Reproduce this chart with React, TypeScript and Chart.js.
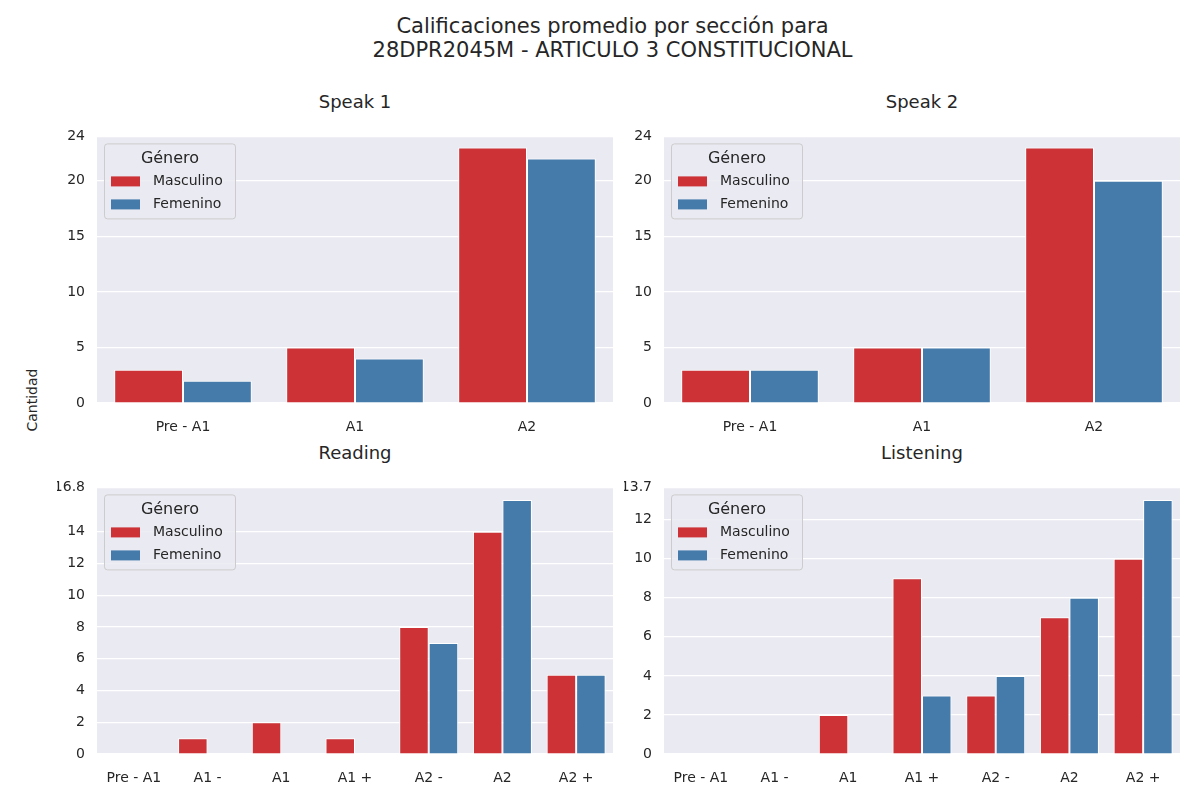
import Chart from 'chart.js/auto'
import { useEffect, useRef } from 'react'

const speakCats = ['Pre - A1', 'A1', 'A2']
const levelCats = ['Pre - A1', 'A1 -', 'A1', 'A1 +', 'A2 -', 'A2', 'A2 +']
const speak1Masc = [3, 5, 23]
const speak1Fem = [2, 4, 22]
const speak2Masc = [3, 5, 23]
const speak2Fem = [3, 5, 20]
const readingMasc = [0, 1, 2, 1, 8, 14, 5]
const readingFem = [0, 0, 0, 0, 7, 16, 5]
const listeningMasc = [0, 0, 2, 9, 3, 7, 10]
const listeningFem = [0, 0, 0, 3, 4, 8, 13]

const RED = '#cc3236'
const BLUE = '#457bab'
const FONT = '"DejaVu Sans", sans-serif'

const legendPlugin = {
  id: 'innerLegend',
  afterDatasetsDraw(chart: any) {
    const { ctx, chartArea } = chart
    const x = chartArea.left + 7
    const y = chartArea.top + 7
    ctx.save()
    ctx.fillStyle = 'rgba(234,234,242,0.85)'
    ctx.strokeStyle = '#cccccc'
    ctx.lineWidth = 1
    ctx.beginPath()
    ctx.roundRect(x + 0.5, y + 0.5, 131, 75, 3)
    ctx.fill()
    ctx.stroke()
    ctx.fillStyle = '#262626'
    ctx.font = `16px ${FONT}`
    ctx.textAlign = 'center'
    ctx.textBaseline = 'middle'
    ctx.fillText('Género', x + 66, y + 15)
    ctx.font = `14px ${FONT}`
    ctx.textAlign = 'left'
    const items: [string, string][] = [['Masculino', RED], ['Femenino', BLUE]]
    items.forEach(([label, color], i) => {
      const yy = y + 38 + i * 23
      ctx.fillStyle = color
      ctx.fillRect(x + 7, yy - 5, 29, 10)
      ctx.fillStyle = '#262626'
      ctx.fillText(label, x + 49, yy)
    })
    ctx.restore()
  },
}

interface PanelProps {
  title: string
  labels: string[]
  masc: number[]
  fem: number[]
  max: number
  step: number
  left: number
  top: number
}

function Panel(props: PanelProps) {
  const ref = useRef<HTMLCanvasElement>(null)
  const plotW = 516
  const plotH = 282

  useEffect(() => {
    if (!ref.current) return
    const chart = new Chart(ref.current, {
      type: 'bar',
      data: {
        labels: props.labels,
        datasets: [
          { label: 'Masculino', data: props.masc, backgroundColor: RED, borderColor: '#ffffff', borderWidth: 1 },
          { label: 'Femenino', data: props.fem, backgroundColor: BLUE, borderColor: '#ffffff', borderWidth: 1 },
        ],
      },
      options: {
        animation: false,
        responsive: false,
        layout: { padding: { top: 5, right: 5, left: 0, bottom: 0 } },
        datasets: { bar: { categoryPercentage: 0.8, barPercentage: 1 } },
        scales: {
          x: {
            grid: { display: false },
            border: { display: false },
            ticks: { color: '#262626', font: { family: FONT, size: 14 }, padding: 8 },
            afterFit: (s: any) => { s.height = 30 },
          },
          y: {
            min: 0,
            max: props.max,
            grid: { color: '#ffffff', lineWidth: 1.2, drawTicks: false },
            border: { display: false },
            ticks: { stepSize: props.step, color: '#262626', font: { family: FONT, size: 14 }, padding: 12 },
            afterFit: (s: any) => { s.width = 40 },
          },
        },
        plugins: { legend: { display: false }, tooltip: { enabled: false } },
      },
      plugins: [
        {
          id: 'bg',
          beforeDraw(c: any) {
            const a = c.chartArea
            c.ctx.save()
            c.ctx.fillStyle = '#eaeaf2'
            c.ctx.fillRect(a.left, a.top, a.right - a.left, a.bottom - a.top)
            c.ctx.restore()
          },
        },
        legendPlugin,
      ],
    })
    return () => chart.destroy()
  }, [])

  return (
    <>
      <div style={{ position: 'absolute', left: props.left, top: props.top - 30, width: plotW, textAlign: 'center', fontFamily: FONT, fontSize: 18, color: '#262626' }}>
        {props.title}
      </div>
      <canvas
        ref={ref}
        width={plotW + 45}
        height={plotH + 35}
        style={{ position: 'absolute', left: props.left - 40, top: props.top - 5, width: plotW + 45, height: plotH + 35 }}
      />
    </>
  )
}

export default function App() {
  return (
    <div style={{ position: 'absolute', left: 0, top: 0, width: 1200, height: 800, background: '#ffffff', fontFamily: FONT }}>
      <div style={{ position: 'absolute', left: 0, top: 14, width: 1225, textAlign: 'center', fontSize: 21, lineHeight: '24px', color: '#262626' }}>
        Calificaciones promedio por sección para<br />28DPR2045M - ARTICULO 3 CONSTITUCIONAL
      </div>
      <div style={{ position: 'absolute', left: 32, top: 400, transform: 'translate(-50%, -50%) rotate(-90deg)', fontSize: 14, color: '#262626' }}>
        Cantidad
      </div>
      <Panel title="Speak 1" labels={speakCats} masc={speak1Masc} fem={speak1Fem} max={24} step={5} left={97} top={121} />
      <Panel title="Speak 2" labels={speakCats} masc={speak2Masc} fem={speak2Fem} max={24} step={5} left={664} top={121} />
      <Panel title="Reading" labels={levelCats} masc={readingMasc} fem={readingFem} max={16.8} step={2} left={97} top={472} />
      <Panel title="Listening" labels={levelCats} masc={listeningMasc} fem={listeningFem} max={13.65} step={2} left={664} top={472} />
    </div>
  )
}
